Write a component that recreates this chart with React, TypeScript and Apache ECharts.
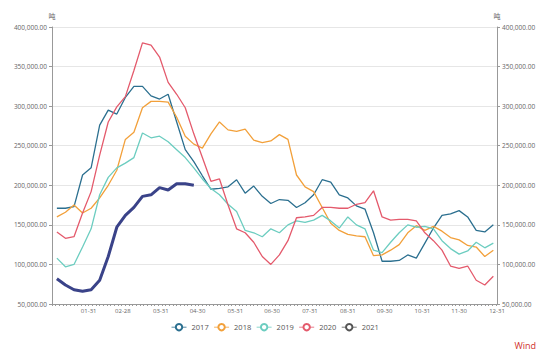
import React, { useEffect, useRef } from "react";
import * as echarts from "echarts";

const MONTH_DAYS = [31, 28, 31, 30, 31, 30, 31, 31, 30, 31, 30, 31];
const DAYS: string[] = [];
MONTH_DAYS.forEach((n, m) => {
  for (let d = 1; d <= n; d++) {
    DAYS.push(String(m + 1).padStart(2, "0") + "-" + String(d).padStart(2, "0"));
  }
});
const MONTH_END_LABELS = ["01-31", "02-28", "03-31", "04-30", "05-31", "06-30", "07-31", "08-31", "09-30", "10-31", "11-30", "12-31"];

const FIRST_WEEK_DAY = 4; // first weekly observation (01-05)

const Y2017 = [171, 171, 173, 213, 222, 276, 295, 290, 311, 325, 325, 313, 309, 315, 280, 245, 230, 212, 195, 196, 198, 207, 190, 199, 186, 177, 182, 181, 172, 178, 188, 207, 204, 188, 184, 174, 170, 140, 104, 104, 105, 112, 108, 127, 146, 162, 164, 168, 160, 143, 141, 150];
const Y2018 = [160, 166, 175, 165, 171, 184, 200, 219, 258, 267, 298, 306, 306, 305, 286, 262, 252, 247, 265, 280, 270, 268, 271, 257, 254, 256, 264, 258, 213, 198, 192, 172, 152, 143, 138, 136, 135, 111, 112, 118, 125, 140, 149, 143, 148, 142, 134, 131, 124, 122, 110, 118];
const Y2019 = [108, 97, 100, 122, 145, 188, 210, 222, 228, 235, 266, 260, 262, 255, 245, 235, 222, 208, 196, 188, 176, 167, 143, 140, 135, 145, 140, 150, 155, 153, 156, 162, 155, 146, 160, 150, 145, 118, 115, 128, 140, 150, 147, 148, 145, 130, 120, 113, 117, 128, 121, 127];
const Y2020 = [141, 133, 135, 165, 192, 238, 280, 299, 312, 345, 380, 377, 362, 330, 315, 298, 265, 235, 205, 208, 175, 145, 140, 128, 110, 100, 112, 130, 159, 160, 162, 172, 172, 171, 171, 176, 178, 193, 160, 156, 157, 157, 155, 140, 130, 118, 98, 95, 98, 80, 74, 85];
const Y2021 = [82, 74, 68, 66, 68, 80, 110, 147, 162, 172, 186, 188, 197, 194, 202, 202, 200];

const SERIES = [
  { name: "2017", values: Y2017, color: "#2b6f8f", legendColor: "#2b6f8f", width: 1.3 },
  { name: "2018", values: Y2018, color: "#f2a03a", legendColor: "#f2a03a", width: 1.3 },
  { name: "2019", values: Y2019, color: "#6ccdc0", legendColor: "#6ccdc0", width: 1.3 },
  { name: "2020", values: Y2020, color: "#e45a6c", legendColor: "#e45a6c", width: 1.3 },
  { name: "2021", values: Y2021, color: "#3a4389", legendColor: "#555555", width: 3 },
];

const fmt = (v: number) =>
  v.toLocaleString("en-US", { minimumFractionDigits: 2, maximumFractionDigits: 2 });

export default function App() {
  const ref = useRef<HTMLDivElement>(null);
  useEffect(() => {
    if (!ref.current) return;
    const chart = echarts.init(ref.current, undefined, { renderer: "svg" });
    const font = "'Open Sans', 'Noto Sans', sans-serif";
    const yAxisBase = {
      type: "value" as const,
      min: 50000,
      max: 400000,
      interval: 50000,
      name: "吨",
      nameGap: 8,
      nameTextStyle: { fontSize: 7, color: "#666", fontFamily: "'Noto Sans CJK SC', sans-serif" },
      axisLine: { show: true, lineStyle: { color: "#999" } },
      axisTick: { show: true, length: 3, lineStyle: { color: "#999" } },
      axisLabel: { fontSize: 6.5, color: "#666", margin: 5, fontFamily: font, formatter: (v: number) => fmt(v) },
    };
    chart.setOption({
      animation: false,
      backgroundColor: "#fff",
      grid: { left: 52, right: 53, top: 27, bottom: 53, containLabel: false },
      legend: {
        data: SERIES.map((s) => ({
          name: s.name,
          itemStyle: { color: s.legendColor, borderColor: s.legendColor, borderWidth: 0.8 },
          lineStyle: { color: s.legendColor, width: 0.8 },
        })),
        top: 318,
        left: "center",
        itemWidth: 15,
        itemHeight: 8,
        itemGap: 5,
        textStyle: { fontSize: 7.5, color: "#555", fontFamily: font },
      },
      xAxis: {
        type: "category",
        data: DAYS,
        boundaryGap: false,
        axisLine: { lineStyle: { color: "#999" } },
        axisTick: { show: true, interval: 2, length: 2, lineStyle: { color: "#999" } },
        axisLabel: {
          fontSize: 6,
          color: "#666",
          margin: 4,
          fontFamily: font,
          interval: (i: number, v: string) => MONTH_END_LABELS.includes(v),
        },
        splitLine: { show: false },
      },
      yAxis: [
        { ...yAxisBase, position: "left", splitLine: { show: true, lineStyle: { color: "#e6e6e6" } } },
        { ...yAxisBase, position: "right", splitLine: { show: false } },
      ],
      graphic: [
        {
          type: "text",
          right: 14,
          top: 341,
          style: { text: "Wind", fontSize: 9, fill: "#d0312d", fontFamily: font },
        },
      ],
      series: SERIES.map((s) => ({
        name: s.name,
        type: "line",
        symbol: "emptyCircle",
        showSymbol: false,
        color: s.color,
        lineStyle: { width: s.width, color: s.color },
        data: s.values.map((v, i) => [DAYS[FIRST_WEEK_DAY + 7 * i], v * 1000]),
      })),
    });
    return () => chart.dispose();
  }, []);
  return <div ref={ref} style={{ width: 550, height: 357, marginLeft: -8, marginTop: -8 }} />;
}
